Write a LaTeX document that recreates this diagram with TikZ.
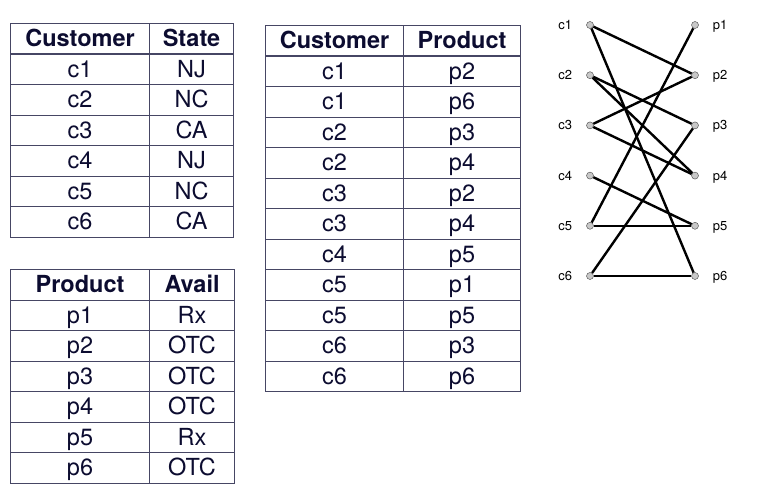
\documentclass[tikz,border=0pt]{standalone}
\usepackage{fontspec}
\setmainfont{TeX Gyre Heros}
\usetikzlibrary{positioning}
\definecolor{gridline}{RGB}{70,70,100}
\definecolor{celltext}{RGB}{12,12,48}
\definecolor{dotfill}{RGB}{200,200,200}

\begin{document}
\begin{tikzpicture}[x=1pt, y=-1pt,
  cell/.style={draw=gridline, line width=1.1pt, inner sep=0pt, anchor=north west,
    minimum height=30.5pt, text height=17pt, text depth=1.2pt, text=celltext,
    font=\fontsize{23.5}{26}\selectfont},
  head/.style={cell, font=\fontsize{23.5}{26}\selectfont\bfseries},
  vert/.style={circle, draw=black!75, fill=dotfill, inner sep=0pt, minimum size=7pt},
  tag/.style={inner sep=1pt, text height=9pt, text depth=0pt, font=\fontsize{13}{15}\selectfont},
  link/.style={line width=2.4pt}]
\useasboundingbox (0,0) rectangle (757,487);

% customer / state
\node[head, minimum width=139pt] (cs-0-1) at (10,23) {Customer};
\node[head, minimum width=84pt] (cs-0-2) at (149,23) {State};
\foreach \cu/\st [count=\i] in {c1/NJ,c2/NC,c3/CA,c4/NJ,c5/NC,c6/CA} {
  \node[cell, minimum width=139pt] (cs-\i-1) at (10,23+30.5*\i) {\cu};
  \node[cell, minimum width=84pt] (cs-\i-2) at (149,23+30.5*\i) {\st};
}

% product / avail
\node[head, minimum width=139pt] (pa-0-1) at (10,269) {Product};
\node[head, minimum width=85pt] (pa-0-2) at (149,269) {Avail};
\foreach \pr/\av [count=\i] in {p1/Rx,p2/OTC,p3/OTC,p4/OTC,p5/Rx,p6/OTC} {
  \node[cell, minimum width=139pt] (pa-\i-1) at (10,269+30.5*\i) {\pr};
  \node[cell, minimum width=85pt] (pa-\i-2) at (149,269+30.5*\i) {\av};
}

% customer / product
\node[head, minimum width=138pt] (cp-0-1) at (265,25) {Customer};
\node[head, minimum width=117pt] (cp-0-2) at (403,25) {Product};
\foreach \cu/\pr [count=\i] in {c1/p2,c1/p6,c2/p3,c2/p4,c3/p2,c3/p4,c4/p5,c5/p1,c5/p5,c6/p3,c6/p6} {
  \node[cell, minimum width=138pt] (cp-\i-1) at (265,25+30.5*\i) {\cu};
  \node[cell, minimum width=117pt] (cp-\i-2) at (403,25+30.5*\i) {\pr};
}

% bipartite graph
\foreach \i in {1,...,6} {
  \node[vert] (c\i) at (590,25+50.2*\i-50.2) {};
  \node[vert] (p\i) at (695,25+50.2*\i-50.2) {};
  \node[tag, left=13pt of c\i] (cl\i) {c\i};
  \node[tag, right=13pt of p\i] (pl\i) {p\i};
}
\foreach \a/\b in {c1/p2,c1/p6,c2/p3,c2/p4,c3/p2,c3/p4,c4/p5,c5/p1,c5/p5,c6/p3,c6/p6}
  \draw[link] (\a) -- (\b);
\end{tikzpicture}
\end{document}
